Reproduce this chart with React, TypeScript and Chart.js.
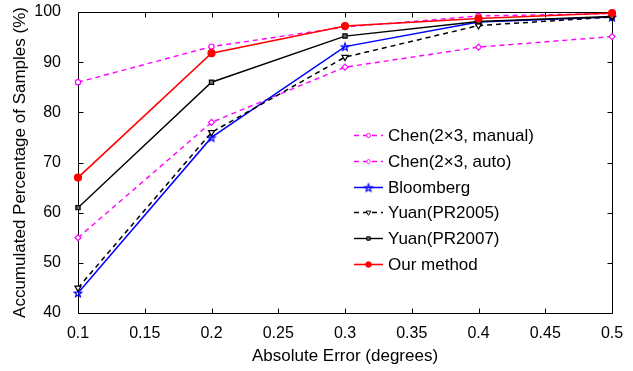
import React, { useEffect, useRef } from 'react';
import { Chart, registerables } from 'chart.js';
import { drawPoint } from 'chart.js/helpers';

Chart.register(...registerables);

const xValues = [0.1, 0.2, 0.3, 0.4, 0.5];
const chenManual = [86, 93.1, 97, 99.2, 99.7];
const chenAuto = [55, 78, 89, 93, 95.1];
const bloomberg = [44, 75, 93.1, 98, 99];
const yuan2005 = [45, 76, 91, 97.3, 99];
const yuan2007 = [61, 86, 95.2, 98.1, 99.1];
const ourMethod = [67, 91.8, 97.2, 98.7, 99.8];

const seriesNames = [
  'Chen(2\u00d73, manual)',
  'Chen(2\u00d73, auto)',
  'Bloomberg',
  'Yuan(PR2005)',
  'Yuan(PR2007)',
  'Our method',
];

const xTicks = [0.1, 0.15, 0.2, 0.25, 0.3, 0.35, 0.4, 0.45, 0.5];
const xTickLabels = ['0.1', '0.15', '0.2', '0.25', '0.3', '0.35', '0.4', '0.45', '0.5'];
const yTicks = [40, 50, 60, 70, 80, 90, 100];
const yTickLabels = ['40', '50', '60', '70', '80', '90', '100'];

const xTitle = 'Absolute Error (degrees)';
const yTitle = 'Accumulated Percentage of Samples (%)';

const FONT = '"Liberation Sans", Arial, Helvetica, sans-serif';

function makeStar(color: string, r: number) {
  const c = document.createElement('canvas');
  const s = Math.ceil(r * 2 + 4);
  c.width = s;
  c.height = s;
  const ctx = c.getContext('2d')!;
  ctx.translate(s / 2, s / 2 + 0.5);
  ctx.beginPath();
  for (let i = 0; i < 10; i++) {
    const rr = i % 2 === 0 ? r : r * 0.42;
    const a = -Math.PI / 2 + (i * Math.PI) / 5;
    ctx.lineTo(rr * Math.cos(a), rr * Math.sin(a));
  }
  ctx.closePath();
  ctx.strokeStyle = color;
  ctx.lineWidth = 1.2;
  ctx.stroke();
  return c;
}

export default function App() {
  const ref = useRef<HTMLCanvasElement | null>(null);

  useEffect(() => {
    document.body.style.margin = '0';
    const canvas = ref.current!;
    const star = makeStar('#0000ff', 4);

    const styles = [
      { color: '#ff00ff', dash: [5, 4], pointStyle: 'circle', radius: 2.6, fill: '#ffffff', rotation: 0, width: 1.4 },
      { color: '#ff00ff', dash: [5, 4], pointStyle: 'rectRot', radius: 3, fill: '#ffffff', rotation: 0, width: 1.4 },
      { color: '#0000ff', dash: [], pointStyle: star as any, radius: 4, fill: '#0000ff', rotation: 0, width: 1.5 },
      { color: '#000000', dash: [5, 4], pointStyle: 'triangle', radius: 3.5, fill: '#ffffff', rotation: 180, width: 1.5 },
      { color: '#000000', dash: [], pointStyle: 'rect', radius: 3, fill: '#666666', rotation: 0, width: 1.4 },
      { color: '#ff0000', dash: [], pointStyle: 'circle', radius: 3.5, fill: '#ff0000', rotation: 0, width: 1.6 },
    ];
    const values = [chenManual, chenAuto, bloomberg, yuan2005, yuan2007, ourMethod];

    const datasets = values.map((vals, i) => {
      const s = styles[i];
      return {
        label: seriesNames[i],
        data: xValues.map((x, j) => ({ x, y: vals[j] })),
        borderColor: s.color,
        backgroundColor: s.fill,
        borderWidth: s.width,
        borderDash: s.dash,
        pointStyle: s.pointStyle,
        pointRadius: s.radius,
        pointRotation: s.rotation,
        pointBorderColor: s.color,
        pointBackgroundColor: s.fill,
        pointBorderWidth: 1.2,
        tension: 0,
        clip: false as any,
        order: values.length - i,
      };
    });

    const framePlugin = {
      id: 'frame',
      beforeDatasetsDraw(chart: any) {
        const { ctx, chartArea } = chart;
        const xs = chart.scales.x;
        const ys = chart.scales.y;
        const L = Math.round(chartArea.left) + 0.5;
        const R = Math.round(chartArea.right) + 0.5;
        const T = Math.round(chartArea.top) + 0.5;
        const B = Math.round(chartArea.bottom) + 0.5;
        ctx.save();
        ctx.strokeStyle = '#000';
        ctx.lineWidth = 1;
        ctx.setLineDash([]);
        ctx.beginPath();
        ctx.rect(L, T, R - L, B - T);
        const tl = 5;
        xTicks.forEach((v) => {
          const px = Math.round(xs.getPixelForValue(v)) + 0.5;
          ctx.moveTo(px, B);
          ctx.lineTo(px, B - tl);
          ctx.moveTo(px, T);
          ctx.lineTo(px, T + tl);
        });
        yTicks.forEach((v) => {
          const py = Math.round(ys.getPixelForValue(v)) + 0.5;
          ctx.moveTo(L, py);
          ctx.lineTo(L + tl, py);
          ctx.moveTo(R, py);
          ctx.lineTo(R - tl, py);
        });
        ctx.stroke();
        ctx.restore();
      },
    };

    const legendPlugin = {
      id: 'insideLegend',
      afterDatasetsDraw(chart: any) {
        const { ctx, chartArea } = chart;
        const x0 = chartArea.left + 276;
        const x1 = x0 + 29;
        const y0 = chartArea.top + 123;
        const step = 25.8;
        ctx.save();
        ctx.font = '17px ' + FONT;
        ctx.textBaseline = 'middle';
        ctx.textAlign = 'left';
        styles.forEach((s, i) => {
          const y = Math.round(y0 + i * step) + 0.5;
          ctx.strokeStyle = s.color;
          ctx.lineWidth = s.width;
          ctx.setLineDash(s.dash);
          ctx.beginPath();
          ctx.moveTo(x0, y);
          ctx.lineTo(x1, y);
          ctx.stroke();
          ctx.setLineDash([]);
          ctx.fillStyle = s.fill;
          ctx.strokeStyle = s.color;
          ctx.lineWidth = 1;
          drawPoint(ctx, { pointStyle: s.pointStyle, rotation: s.rotation, radius: s.radius * 0.8, borderWidth: 1 } as any, (x0 + x1) / 2, y);
          ctx.fillStyle = '#000';
          ctx.fillText(seriesNames[i], x1 + 5, y + 1);
        });
        ctx.restore();
      },
    };

    const chart = new Chart(canvas, {
      type: 'line',
      data: { datasets: datasets as any },
      options: {
        animation: false,
        responsive: false,
        maintainAspectRatio: false,
        devicePixelRatio: 1,
        layout: { padding: { top: 12, right: 21, left: 0, bottom: 0 } },
        plugins: { legend: { display: false }, tooltip: { enabled: false } },
        scales: {
          x: {
            type: 'linear',
            min: 0.1,
            max: 0.5,
            afterBuildTicks: (s: any) => {
              s.ticks = xTicks.map((v) => ({ value: v }));
            },
            afterFit: (s: any) => {
              s.height = 58;
              s.paddingLeft = 0;
              s.paddingRight = 0;
            },
            grid: { display: false },
            border: { display: false },
            ticks: {
              autoSkip: false,
              maxRotation: 0,
              padding: 3,
              color: '#000',
              font: { family: FONT, size: 16 },
              callback: (_v: any, i: number) => xTickLabels[i],
            },
            title: {
              display: true,
              text: xTitle,
              color: '#000',
              font: { family: FONT, size: 17 },
              padding: { top: 0, bottom: 4 },
            },
          },
          y: {
            type: 'linear',
            min: 40,
            max: 100,
            afterBuildTicks: (s: any) => {
              s.ticks = yTicks.map((v) => ({ value: v }));
            },
            afterFit: (s: any) => {
              s.width = 78;
              s.paddingTop = 0;
              s.paddingBottom = 0;
            },
            grid: { display: false },
            border: { display: false },
            ticks: {
              autoSkip: false,
              padding: 9,
              color: '#000',
              font: { family: FONT, size: 16 },
              callback: (_v: any, i: number) => yTickLabels[i],
            },
            title: {
              display: true,
              text: yTitle,
              color: '#000',
              font: { family: FONT, size: 17 },
              padding: { top: 10, bottom: 0 },
            },
          },
        },
      },
      plugins: [framePlugin, legendPlugin],
    });

    return () => chart.destroy();
  }, []);

  return (
    <div style={{ width: 633, height: 371, background: '#fff' }}>
      <canvas ref={ref} width={633} height={371} style={{ display: 'block' }} />
    </div>
  );
}
